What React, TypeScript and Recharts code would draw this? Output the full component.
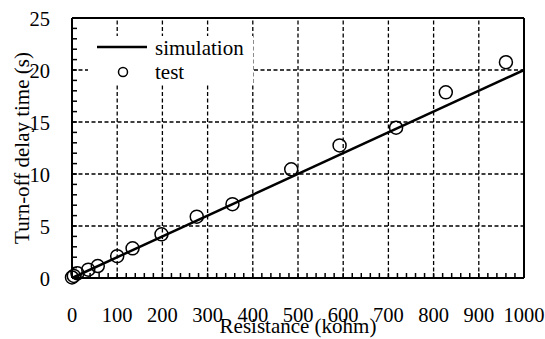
import {
  ScatterChart,
  Scatter,
  XAxis,
  YAxis,
  ReferenceLine,
  Legend,
} from 'recharts';

const FONT = 'Liberation Serif, Times New Roman, DejaVu Serif, serif';

// measured test points (resistance in kohm, delay in s)
const TEST_R = [0, 4, 12, 36, 57, 100, 134, 198, 276, 355, 485, 592, 717, 827, 960];
const TEST_T = [0.05, 0.2, 0.45, 0.8, 1.15, 2.1, 2.85, 4.2, 5.9, 7.1, 10.45, 12.75, 14.45, 17.85, 20.75];

// simulated straight line
const SIM_R = [0, 1000];
const SIM_T = [0, 20];

// minor ticks every 20 / every 1, labels and grid every 100 / every 5
const X_TICKS = Array.from({ length: 51 }, (_, i) => i * 20);
const Y_TICKS = Array.from({ length: 26 }, (_, i) => i);
const X_GRID = [100, 200, 300, 400, 500, 600, 700, 800, 900];
const Y_GRID = [5, 10, 15, 20];

const testData = TEST_R.map((r, i) => ({ r, t: TEST_T[i] }));
const simData = SIM_R.map((r, i) => ({ r, t: SIM_T[i] }));

const txt = { fontFamily: FONT, fill: '#000' };

function XTick(props: any) {
  const { x, y, payload } = props;
  const major = payload.value % 100 === 0;
  return (
    <g>
      <line x1={x} x2={x} y1={y} y2={y - 5} stroke="#000" strokeWidth={1.5} />
      {major && (
        <text x={x} y={y + 44} textAnchor="middle" fontSize={20.5} style={txt}>
          {payload.value}
        </text>
      )}
    </g>
  );
}

function YTick(props: any) {
  const { x, y, payload } = props;
  const major = payload.value % 5 === 0;
  return (
    <g>
      <line x1={x} x2={x + 5} y1={y} y2={y} stroke="#000" strokeWidth={1.5} />
      {major && (
        <text x={x - 22} y={y + 8} textAnchor="end" fontSize={20.5} style={txt}>
          {payload.value}
        </text>
      )}
    </g>
  );
}

function YTitle(props: any) {
  const vb = props.viewBox || {};
  const cx = 22;
  const cy = vb.y + vb.height / 2;
  return (
    <text
      x={cx}
      y={cy}
      transform={`rotate(-90, ${cx}, ${cy})`}
      textAnchor="middle"
      dominantBaseline="central"
      fontSize={21}
      style={txt}
    >
      Turn-off delay time (s)
    </text>
  );
}

function XTitle(props: any) {
  const vb = props.viewBox || {};
  const cx = vb.x + vb.width / 2;
  return (
    <text x={cx} y={vb.y + vb.height - 6} textAnchor="middle" fontSize={21} style={txt}>
      Resistance (kohm)
    </text>
  );
}

function LegendBox() {
  return (
    <svg width={165} height={47} style={{ display: 'block' }}>
      <rect x={0} y={0} width={165} height={47} fill="#fff" />
      <line x1={9} x2={59} y1={11} y2={11} stroke="#000" strokeWidth={2.5} />
      <circle cx={35} cy={36} r={4.5} fill="none" stroke="#000" strokeWidth={1.5} />
      <text x={67} y={19} fontSize={21} style={txt}>simulation</text>
      <text x={67} y={43} fontSize={21} style={txt}>test</text>
    </svg>
  );
}

const OpenCircle = (props: any) => (
  <circle cx={props.cx} cy={props.cy} r={6.5} fill="none" stroke="#000" strokeWidth={1.5} />
);

export default function App() {
  return (
    <div style={{ position: 'absolute', left: 0, top: 0, background: '#fff', fontFamily: FONT }}>
      <ScatterChart
        width={545}
        height={339}
        margin={{ top: 18, right: 21, bottom: 0, left: 0 }}
        style={{ fontFamily: FONT }}
      >
        <XAxis
          type="number"
          dataKey="r"
          domain={[0, 1000]}
          ticks={X_TICKS}
          interval={0}
          tick={<XTick />}
          tickLine={false}
          tickSize={0}
          tickMargin={0}
          height={61}
          axisLine={{ stroke: '#000', strokeWidth: 2 }}
          label={{ content: (p: any) => <XTitle {...p} /> }}
        />
        <YAxis
          type="number"
          dataKey="t"
          domain={[0, 25]}
          ticks={Y_TICKS}
          interval={0}
          tick={<YTick />}
          tickLine={false}
          tickSize={0}
          tickMargin={0}
          width={72}
          axisLine={{ stroke: '#000', strokeWidth: 2 }}
          label={{ content: (p: any) => <YTitle {...p} /> }}
        />

        {/* dashed grid every 100 kohm and every 5 s */}
        {X_GRID.map((v) => (
          <ReferenceLine key={`gx${v}`} x={v} stroke="#000" strokeWidth={1.3} strokeDasharray="4 2.5" />
        ))}
        {Y_GRID.map((v) => (
          <ReferenceLine key={`gy${v}`} y={v} stroke="#000" strokeWidth={1.3} strokeDasharray="4 2.5" />
        ))}
        <ReferenceLine x={1000} stroke="#000" strokeWidth={2} />
        <ReferenceLine y={25} stroke="#000" strokeWidth={2} />

        <Legend
          layout="vertical"
          align="center"
          verticalAlign="middle"
          content={() => <LegendBox />}
          wrapperStyle={{ left: 88, top: 36, width: 165, height: 47 }}
        />

        <Scatter
          name="simulation"
          data={simData}
          line={{ stroke: '#000', strokeWidth: 2.5 }}
          lineType="joint"
          shape={() => <g />}
          isAnimationActive={false}
        />
        <Scatter name="test" data={testData} shape={OpenCircle} isAnimationActive={false} />
      </ScatterChart>
    </div>
  );
}
